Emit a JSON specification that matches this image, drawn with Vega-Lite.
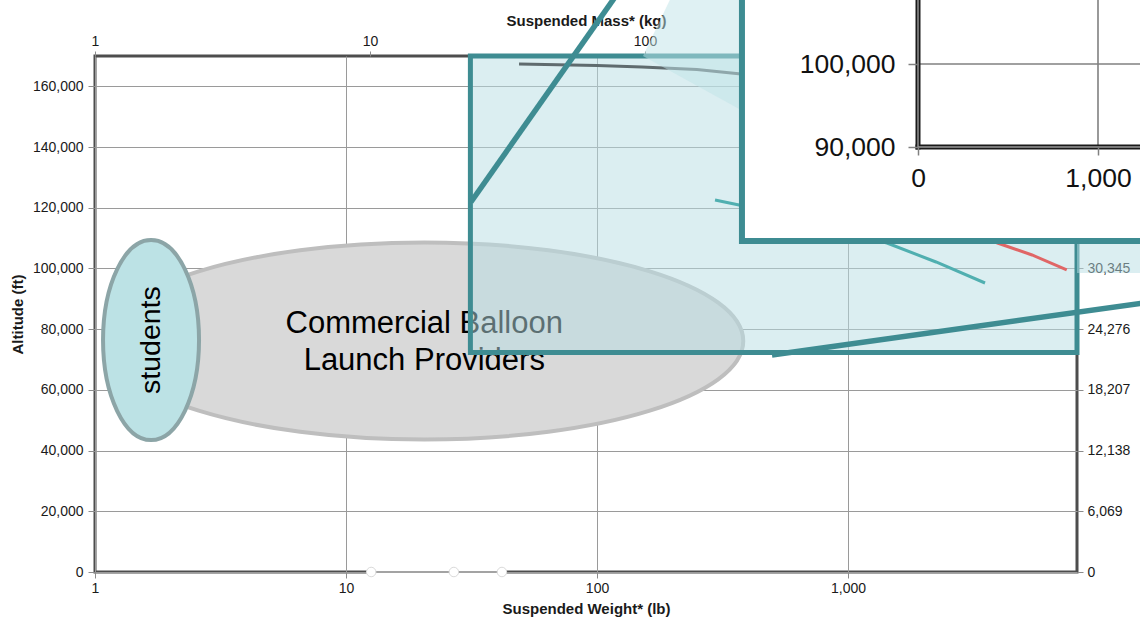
{
  "$schema": "https://vega.github.io/schema/vega-lite/v6.json",
  "width": 982,
  "height": 516,
  "autosize": {"type": "none"},
  "padding": {"left": 95, "top": 56, "right": 63, "bottom": 50},
  "background": "#ffffff",
  "config": {
    "view": {"stroke": "#4d4d4d", "strokeWidth": 3},
    "font": "Liberation Sans",
    "axis": {
      "labelFont": "Liberation Sans",
      "labelFontSize": 14,
      "labelColor": "#1a1a1a",
      "tickColor": "#8c8c8c",
      "tickWidth": 1,
      "domain": false,
      "grid": false,
      "labelFlush": false,
      "labelOverlap": false,
      "titleFont": "Liberation Sans",
      "titleFontSize": 15,
      "titleFontWeight": "bold",
      "titleColor": "#1a1a1a",
      "gridColor": "#9a9a9a",
      "gridWidth": 1
    }
  },
  "datasets": {
    "annot": [
      {"kind": "commercial", "label": "Commercial Balloon\nLaunch Providers", "x": 20.5, "y": 76100},
      {"kind": "students", "label": "students", "x": 1.672, "y": 76400}
    ],
    "overlay": [{"x": 31.3, "x2": 8170, "y": 72300, "y2": 170000}],
    "strip": [{"x": 8170, "x2": 20000, "y": 98509, "y2": 109381}],
    "cone": [
      {"x": 152.5, "y": 170000, "y2": 170000},
      {"x": 199.0, "y": 164730, "y2": 190000},
      {"x": 374.7, "y": 152210, "y2": 190000}
    ],
    "curves": [
      {"series": "gray", "x": 48.9, "y": 167366},
      {"series": "gray", "x": 100, "y": 166870},
      {"series": "gray", "x": 151, "y": 166377},
      {"series": "gray", "x": 250, "y": 165553},
      {"series": "gray", "x": 375, "y": 164070},
      {"series": "teal", "x": 295.2, "y": 122559},
      {"series": "teal", "x": 367.9, "y": 120912},
      {"series": "teal", "x": 1430, "y": 108392},
      {"series": "teal", "x": 2242, "y": 102133},
      {"series": "teal", "x": 3514, "y": 95214},
      {"series": "red", "x": 2793, "y": 114323},
      {"series": "red", "x": 3941, "y": 108392},
      {"series": "red", "x": 5409, "y": 104439},
      {"series": "red", "x": 7436, "y": 99497}
    ],
    "connectors": [
      {"id": 1, "x": 31.47, "y": 121900},
      {"id": 1, "x": 131.7, "y": 195040},
      {"id": 2, "x": 497.8, "y": 71490},
      {"id": 2, "x": 17500, "y": 89415}
    ],
    "baseline": [
      {"x": 12.6, "y": 0},
      {"x": 26.9, "y": 0},
      {"x": 41.8, "y": 0}
    ],
    "insetbox": [{"x": -978, "x2": 1372, "y": 78675, "y2": 109397}],
    "insetgrid": [
      {"x": 0, "x2": 1372, "y": 100000, "y2": 100000},
      {"x": 1000, "x2": 1000, "y": 90000, "y2": 109397}
    ],
    "insetframe": [
      {"x": 0, "x2": 0, "y": 90000, "y2": 109397},
      {"x": 0, "x2": 1372, "y": 90000, "y2": 90000}
    ],
    "dummy": [{"x": 1, "y": 0}]
  },
  "resolve": {"scale": {"x": "independent", "y": "independent"}},
  "layer": [
    {
      "encoding": {
        "x": {
          "field": "x", "type": "quantitative",
          "scale": {"type": "log", "domain": [1, 8170], "nice": false},
          "axis": {"orient": "bottom", "values": [1, 10, 100, 1000], "format": ",", "grid": true, "tickSize": 6, "labelPadding": 3, "title": "Suspended Weight* (lb)", "titlePadding": 6}
        },
        "y": {
          "field": "y", "type": "quantitative",
          "scale": {"domain": [0, 170000], "nice": false, "zero": false},
          "axis": {"orient": "left", "values": [0, 20000, 40000, 60000, 80000, 100000, 120000, 140000, 160000], "format": ",.0f", "grid": true, "tickSize": 7, "labelPadding": 5, "title": "Altitude (ft)", "titlePadding": 7}
        }
      },
      "layer": [
        {
          "data": {"name": "annot"},
          "transform": [{"filter": "datum.kind === 'commercial'"}],
          "mark": {"type": "point", "shape": "M -1 0 C -1 -0.1705 -0.5523 -0.3088 0 -0.3088 C 0.5523 -0.3088 1 -0.1705 1 0 C 1 0.1705 0.5523 0.3088 0 0.3088 C -0.5523 0.3088 -1 0.1705 -1 0 Z", "size": 407044, "filled": true, "fill": "#d9d9d9", "stroke": "#bebebe", "strokeWidth": 4, "opacity": 1}
        },
        {
          "data": {"name": "annot"},
          "transform": [{"filter": "datum.kind === 'students'"}],
          "mark": {"type": "point", "shape": "M 0 -1 C 0.2651 -1 0.48 -0.5523 0.48 0 C 0.48 0.5523 0.2651 1 0 1 C -0.2651 1 -0.48 0.5523 -0.48 0 C -0.48 -0.5523 -0.2651 -1 0 -1 Z", "size": 40000, "filled": true, "fill": "#bce2e5", "stroke": "#8ca5a7", "strokeWidth": 4, "opacity": 1}
        },
        {
          "data": {"name": "annot"},
          "transform": [{"filter": "datum.kind === 'commercial'"}],
          "mark": {"type": "text", "font": "Liberation Sans", "fontSize": 31, "lineBreak": "\n", "lineHeight": 37, "align": "center", "baseline": "middle", "dy": -17, "color": "#000000"},
          "encoding": {"text": {"field": "label"}}
        },
        {
          "data": {"name": "annot"},
          "transform": [{"filter": "datum.kind === 'students'"}],
          "mark": {"type": "text", "font": "Liberation Sans", "fontSize": 28.5, "angle": 270, "align": "center", "baseline": "middle", "color": "#000000"},
          "encoding": {"text": {"field": "label"}}
        },
        {
          "data": {"name": "overlay"},
          "mark": {"type": "rect", "fill": "#b7dde3", "fillOpacity": 0.5, "stroke": "#3e8c92", "strokeWidth": 5},
          "encoding": {"x2": {"field": "x2"}, "y2": {"field": "y2"}}
        },
        {
          "data": {"name": "curves"},
          "transform": [{"filter": "datum.series === 'gray'"}],
          "mark": {"type": "line", "color": "#5f6b6e", "strokeWidth": 3}
        },
        {
          "data": {"name": "cone"},
          "mark": {"type": "area", "orient": "vertical", "color": "#bfe4e8", "opacity": 0.5},
          "encoding": {"y2": {"field": "y2"}}
        },
        {
          "data": {"name": "curves"},
          "transform": [{"filter": "datum.series === 'teal'"}],
          "mark": {"type": "line", "color": "#50afb0", "strokeWidth": 3}
        },
        {
          "data": {"name": "curves"},
          "transform": [{"filter": "datum.series === 'red'"}],
          "mark": {"type": "line", "color": "#e06666", "strokeWidth": 3}
        },
        {
          "data": {"name": "strip"},
          "mark": {"type": "rect", "fill": "#b7dde3", "fillOpacity": 0.5},
          "encoding": {"x2": {"field": "x2"}, "y2": {"field": "y2"}}
        },
        {
          "data": {"name": "connectors"},
          "mark": {"type": "line", "color": "#3e8c92", "strokeWidth": 5.5},
          "encoding": {"detail": {"field": "id"}}
        },
        {
          "data": {"name": "baseline"},
          "mark": {"type": "line", "color": "#ffffff", "strokeWidth": 4.5}
        },
        {
          "data": {"name": "baseline"},
          "mark": {"type": "line", "color": "#a3a3a3", "strokeWidth": 2}
        },
        {
          "data": {"name": "baseline"},
          "mark": {"type": "point", "filled": true, "fill": "#ffffff", "stroke": "#dadada", "strokeWidth": 1, "size": 90, "opacity": 1}
        }
      ]
    },
    {
      "data": {"name": "dummy"},
      "mark": {"type": "point", "opacity": 0},
      "encoding": {
        "x": {
          "field": "x", "type": "quantitative",
          "scale": {"type": "log", "domain": [1, 3724], "nice": false},
          "axis": {"orient": "top", "values": [1, 10, 100, 1000], "format": ",", "tickSize": 5, "labelPadding": 3, "title": "Suspended Mass* (kg)", "titlePadding": 6}
        },
        "y": {
          "field": "y", "type": "quantitative",
          "scale": {"domain": [0, 170000], "nice": false, "zero": false},
          "axis": {"orient": "right", "values": [0, 20000, 40000, 60000, 80000, 100000, 120000, 140000, 160000], "labelExpr": "format(round(datum.value * 0.30345), ',')", "tickSize": 6, "labelPadding": 4, "title": null}
        }
      }
    },
    {
      "encoding": {
        "x": {
          "field": "x", "type": "quantitative",
          "scale": {"domain": [0, 1000], "range": [823, 1003], "nice": false, "zero": false},
          "axis": {"orient": "bottom", "offset": -425, "values": [0, 1000], "format": ",.0f", "labelFontSize": 26.5, "labelColor": "#111111", "tickSize": 8, "tickWidth": 1.5, "tickColor": "#808080", "labelPadding": 10, "title": null, "zindex": 3}
        },
        "y": {
          "field": "y", "type": "quantitative",
          "scale": {"domain": [90000, 100000], "range": [91, 8], "nice": false, "zero": false},
          "axis": {"orient": "left", "offset": -823, "values": [90000, 100000], "format": ",.0f", "labelFontSize": 26.5, "labelColor": "#111111", "tickSize": 10, "tickWidth": 1.5, "tickColor": "#808080", "labelPadding": 13, "title": null, "zindex": 3}
        }
      },
      "layer": [
        {
          "data": {"name": "insetbox"},
          "mark": {"type": "rect", "fill": "#ffffff", "stroke": "#3e8c92", "strokeWidth": 6},
          "encoding": {"x2": {"field": "x2"}, "y2": {"field": "y2"}}
        },
        {
          "data": {"name": "insetgrid"},
          "mark": {"type": "rule", "color": "#808080", "strokeWidth": 1.6},
          "encoding": {"x2": {"field": "x2"}, "y2": {"field": "y2"}}
        },
        {
          "data": {"name": "insetframe"},
          "mark": {"type": "rule", "color": "#1a1a1a", "strokeWidth": 5, "strokeCap": "square"},
          "encoding": {"x2": {"field": "x2"}, "y2": {"field": "y2"}}
        },
        {
          "data": {"name": "insetframe"},
          "mark": {"type": "rule", "color": "#9a9a9a", "strokeWidth": 1.4},
          "encoding": {"x2": {"field": "x2"}, "y2": {"field": "y2"}}
        }
      ]
    }
  ]
}
